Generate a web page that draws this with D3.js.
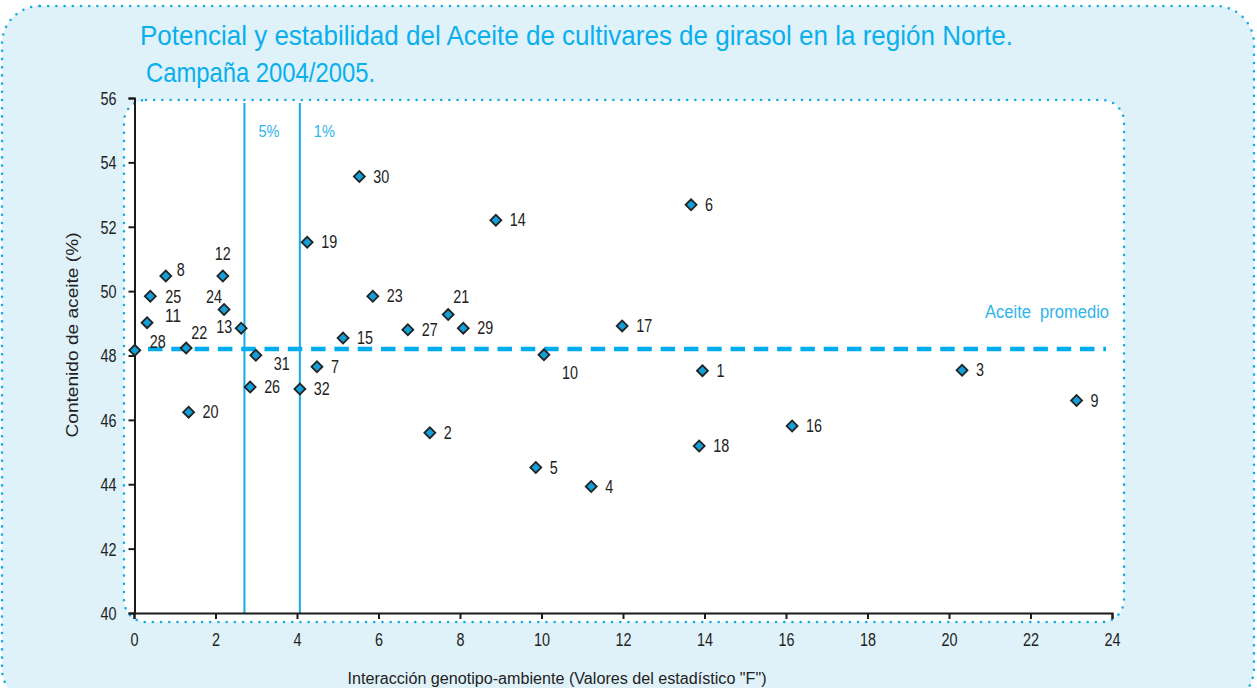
<!DOCTYPE html>
<html>
<head>
<meta charset="utf-8">
<script src="https://cdn.jsdelivr.net/npm/d3@7"></script>
<style>
  html, body { margin: 0; padding: 0; background: #ffffff; }
  svg { display: block; }
  text { font-family: "Liberation Sans", Arial, sans-serif; }
</style>
</head>
<body>
<svg id="chart" width="1257" height="688"></svg>
<script>
// ---------- data ----------
const cultivars = [1, 2, 3, 4, 5, 6, 7, 8, 9, 10, 11, 12, 13, 14, 15, 16,
                   17, 18, 19, 20, 21, 22, 23, 24, 25, 26, 27, 28, 29, 30, 31, 32];
const interactionF = [13.95, 7.26, 20.32, 11.22, 9.86, 13.67, 4.49, 0.78, 23.13, 10.06, 0.32, 2.18, 2.63, 8.88, 5.13, 16.15,
                      11.98, 13.87, 4.25, 1.34, 7.71, 1.28, 5.86, 2.21, 0.40, 2.85, 6.72, 0.02, 8.08, 5.53, 2.99, 4.07];
const oilContent = [47.53, 45.60, 47.54, 43.93, 44.52, 52.68, 47.65, 50.47, 46.60, 48.02, 49.02, 50.47, 48.85, 52.20, 48.54, 45.81,
                    48.92, 45.19, 51.52, 46.24, 49.27, 48.23, 49.84, 49.43, 49.84, 47.02, 48.80, 48.16, 48.85, 53.56, 48.01, 46.96];
const oilAverage = 48.2;
const thresholdValues = [2.71, 4.07];
const thresholdLabels = ["5%", "1%"];
const xTicks = [0, 2, 4, 6, 8, 10, 12, 14, 16, 18, 20, 22, 24];
const yTicks = [40, 42, 44, 46, 48, 50, 52, 54, 56];
const titleLines = ["Potencial y estabilidad del Aceite de cultivares de girasol en la región Norte.",
                    " Campaña 2004/2005."];
const xTitle = "Interacción genotipo-ambiente (Valores del estadístico \"F\")";
const yTitle = "Contenido de aceite (%)";
const avgLabel = "Aceite  promedio";

// ---------- label placement (style, not data) ----------
const labelPlace = {
  8: {dx: 11, dy: 0}, 11: {dx: 18, dy: -1}, 25: {dx: 15, dy: 7},
  12: {dx: 0, dy: -16, anchor: "middle"}, 24: {dx: -2, dy: -6, anchor: "end"},
  13: {dx: -9, dy: 5, anchor: "end"}, 28: {dx: 15, dy: -2}, 22: {dx: 5, dy: -9},
  31: {dx: 18, dy: 15}, 10: {dx: 18, dy: 24}, 21: {dx: 5, dy: -12}
};
const defaultPlace = {dx: 14, dy: 6, anchor: "start"};

// ---------- styles ----------
const BLUE = "#14aae6";
const DIGIT_W = 8;
const svg = d3.select("#chart");

const x = d3.scaleLinear().domain([0, 24]).range([134, 1112]);
const y = d3.scaleLinear().domain([40, 56]).range([613, 98]);

// outer panel
svg.append("rect").attr("x", 2).attr("y", 6).attr("width", 1252).attr("height", 700)
  .attr("rx", 38).attr("fill", "#dff2fa")
  .attr("stroke", BLUE).attr("stroke-width", 2.6).attr("stroke-linecap", "round")
  .attr("stroke-dasharray", "0 8.2");

// inner panel
svg.append("rect").attr("x", 124).attr("y", 100).attr("width", 1000).attr("height", 522)
  .attr("rx", 22).attr("fill", "#ffffff")
  .attr("stroke", BLUE).attr("stroke-width", 2.6).attr("stroke-linecap", "round")
  .attr("stroke-dasharray", "0 8.2");

// title
const titleG = svg.append("g");
titleG.append("text").attr("x", 140).attr("y", 45).text(titleLines[0])
  .attr("font-size", 28).attr("fill", "#0aafec")
  .attr("textLength", 873).attr("lengthAdjust", "spacingAndGlyphs");
titleG.append("text").attr("x", 146).attr("y", 82).text(titleLines[1].trim())
  .attr("font-size", 28).attr("fill", "#0aafec")
  .attr("textLength", 229).attr("lengthAdjust", "spacingAndGlyphs");

// threshold lines
const thr = svg.append("g");
thr.selectAll("line").data(thresholdValues).join("line")
  .attr("x1", d => x(d)).attr("x2", d => x(d))
  .attr("y1", 103).attr("y2", y(40))
  .attr("stroke", BLUE).attr("stroke-width", 2);
thr.selectAll("text").data(thresholdLabels).join("text")
  .attr("x", (d, i) => x(thresholdValues[i]) + 14).attr("y", 137)
  .attr("font-size", 17).attr("fill", "#2db5ea")
  .attr("textLength", 21).attr("lengthAdjust", "spacingAndGlyphs").text(d => d);

// average line
svg.append("line")
  .attr("x1", x(0) + 14).attr("x2", x(24) - 6)
  .attr("y1", y(oilAverage)).attr("y2", y(oilAverage))
  .attr("stroke", "#00adee").attr("stroke-width", 4.5)
  .attr("stroke-dasharray", "14.5 8.8");
svg.append("text").attr("x", x(24) - 3).attr("y", y(oilAverage) - 31)
  .attr("text-anchor", "end").attr("font-size", 18).attr("fill", "#2db5ea")
  .attr("xml:space", "preserve")
  .attr("textLength", 124).attr("lengthAdjust", "spacingAndGlyphs")
  .text(avgLabel);

// axes
const yAxis = svg.append("g").attr("transform", `translate(${x(0) + 0.5},0)`)
  .call(d3.axisLeft(y).tickValues(yTicks).tickSize(6).tickPadding(12).tickFormat(d3.format("d")));
const xAxis = svg.append("g").attr("transform", `translate(0,${y(40)})`)
  .call(d3.axisBottom(x).tickValues(xTicks).tickSize(6).tickPadding(14).tickFormat(d3.format("d")));
[yAxis, xAxis].forEach(a => {
  a.select(".domain").attr("stroke", "#1a1a1a").attr("stroke-width", 2);
  a.selectAll(".tick line").attr("stroke", "#1a1a1a").attr("stroke-width", 2);
  a.selectAll(".tick text").attr("font-size", 18).attr("fill", "#222")
    .attr("font-family", "\"Liberation Sans\", Arial, sans-serif")
    .attr("textLength", d => String(d).length * DIGIT_W)
    .attr("lengthAdjust", "spacingAndGlyphs");
});
yAxis.selectAll(".tick text").attr("dy", "0.36em");

// axis titles
svg.append("text").attr("x", 557).attr("y", 684).attr("text-anchor", "middle")
  .attr("font-size", 16).attr("fill", "#222")
  .attr("textLength", 419).attr("lengthAdjust", "spacingAndGlyphs").text(xTitle);
svg.append("text").attr("transform", "translate(78,335) rotate(-90)")
  .attr("text-anchor", "middle").attr("font-size", 16).attr("fill", "#222")
  .attr("textLength", 205).attr("lengthAdjust", "spacingAndGlyphs").text(yTitle);

// points
const pts = cultivars.map((c, i) => ({id: c, fx: interactionF[i], oil: oilContent[i]}));
const pg = svg.append("g");
pg.selectAll("path").data(pts).join("path")
  .attr("d", d3.symbol().type(d3.symbolSquare).size(60))
  .attr("transform", d => `translate(${x(d.fx)},${y(d.oil)}) rotate(45)`)
  .attr("fill", "#139fd9").attr("stroke", "#222").attr("stroke-width", 1.8);

pg.selectAll("text").data(pts).join("text")
  .attr("x", d => x(d.fx) + (labelPlace[d.id] || defaultPlace).dx)
  .attr("y", d => y(d.oil) + (labelPlace[d.id] || defaultPlace).dy)
  .attr("text-anchor", d => (labelPlace[d.id] || defaultPlace).anchor || "start")
  .attr("font-size", 18).attr("fill", "#222")
  .attr("textLength", d => String(d.id).length * DIGIT_W)
  .attr("lengthAdjust", "spacingAndGlyphs")
  .text(d => d.id);
</script>
</body>
</html>
